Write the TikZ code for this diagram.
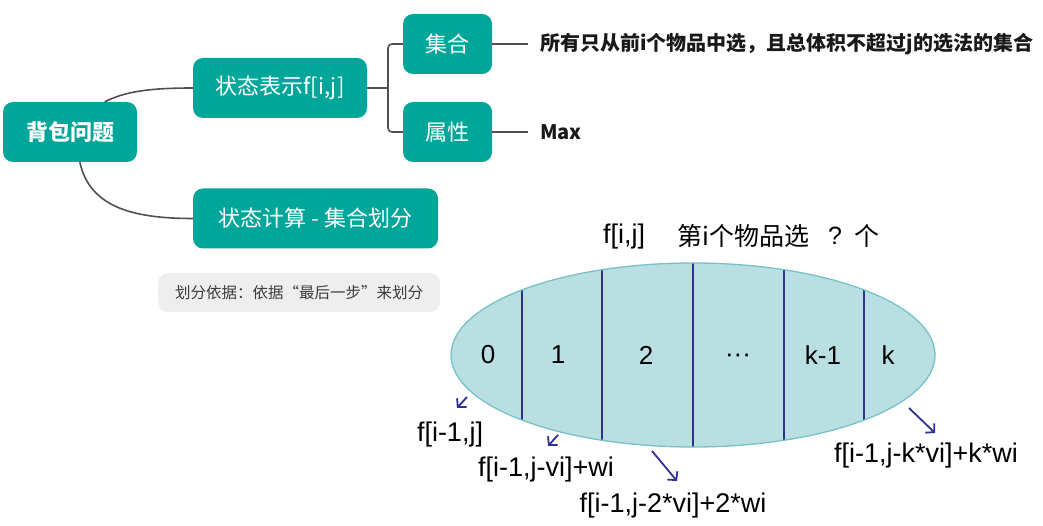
\documentclass[tikz,border=0pt]{standalone}
\usepackage{fontspec}
\setmainfont{Liberation Sans}
\newfontfamily\cjk{Noto Sans CJK SC}
\usetikzlibrary{shapes.geometric,arrows.meta,calc}

\definecolor{teal0}{RGB}{0,166,153}
\definecolor{linkgray}{RGB}{80,80,80}
\definecolor{ellfill}{RGB}{185,223,227}
\definecolor{ellborder}{RGB}{120,193,198}
\definecolor{divblue}{RGB}{46,49,146}
\definecolor{notegray}{RGB}{238,238,238}
\definecolor{notetext}{RGB}{60,60,60}
\definecolor{textdark}{RGB}{25,25,25}

\begin{document}
\begin{tikzpicture}[x=1pt,y=-1pt,
  mind/.style={fill=teal0, rounded corners=10pt, text=white,
    font=\cjk\fontsize{22}{26}\selectfont, minimum height=60pt, inner sep=0pt},
  link/.style={draw=linkgray, line width=1.6pt},
  desc/.style={anchor=west, inner xsep=12pt, inner ysep=0pt, text=textdark,
    font=\cjk\bfseries\fontsize{20}{24}\selectfont},
  cell/.style={font=\fontsize{26}{30}\selectfont, text=black},
  term/.style={font=\fontsize{27}{31}\selectfont, text=black, inner sep=0pt},
  ask/.style={font=\cjk\fontsize{25}{29}\selectfont, text=black, inner sep=0pt},
  pointer/.style={draw=divblue, line width=1.8pt,
    -{Straight Barb[length=6pt,width=13pt,line width=1.8pt]}},
]
\useasboundingbox (0,0) rectangle (1043,526);

% ---- mind map ----
\node[mind, minimum width=134pt, font=\cjk\bfseries\fontsize{22}{26}\selectfont]
  (root) at (70,132) {背包问题};
\node[mind, minimum width=174pt] (rep)  at (280,88)    {状态表示f[i,j]};
\node[mind, minimum width=89pt]  (set)  at (447.5,44)  {集合};
\node[mind, minimum width=89pt]  (attr) at (447.5,132) {属性};
\node[mind, minimum width=245pt] (calc) at (315.5,218.5) {状态计算 - 集合划分};

\draw[link] (root.41) .. controls +(20,-10) and +(-45,0) .. (rep.west);
\draw[link] (root.-72) .. controls +(10,45) and +(-60,0) .. (calc.west);

\coordinate (fork) at (388,88);
\draw[link] (rep.east) -- (fork);
\draw[link, rounded corners=4pt] (set.west) -| (fork) |- (attr.west);

\node[desc] (setdesc) at (528,44) {所有只从前i个物品中选，且总体积不超过j的选法的集合};
\node[desc] (attrdesc) at (528,132) {Max};
\draw[link] (set.east) -- (setdesc.west);
\draw[link] (attr.east) -- (attrdesc.west);

% ---- note ----
\node[fill=notegray, rounded corners=10pt, minimum width=282pt, minimum height=39pt,
  inner sep=0pt, text=notetext, font=\cjk\fontsize{15.5}{18}\selectfont]
  (note) at (299,292.5) {划分依据：依据“最后一步”来划分};

% ---- partition of the set f[i,j] ----
\node[ellipse, fill=ellfill, minimum width=484pt, minimum height=184pt, inner sep=0pt]
  (bag) at (693,355) {};
\begin{scope}
  \clip (693,355) ellipse [x radius=242, y radius=92];
  \foreach \x in {522,602,693,784,864}
    \draw[divblue, line width=1.8pt] (\x,250) -- (\x,460);
\end{scope}
\draw[ellborder, line width=1.3pt] (693,355) ellipse [x radius=242, y radius=92];

\node[cell] (c0) at (488,355) {0};
\node[cell] (c1) at (558,355) {1};
\node[cell] (c2) at (646,355) {2};
\node[cell] (cd) at (738,358) {···};
\node[cell] (ck1) at (823,355) {k-1};
\node[cell] (ck) at (888,355) {k};

\node[term] (fij) at (624,237) {f[i,j]};
\node[ask, anchor=west] (howmany) at (677,236) {第i个物品选};
\node[ask, font=\fontsize{25}{29}\selectfont] (qmark) at (835,236) {?};
\node[ask] (ge) at (867,236) {个};

\node[term] (t0) at (450,435) {f[i-1,j]};
\node[term] (t1) at (546,470) {f[i-1,j-vi]+wi};
\node[term] (t2) at (673,506) {f[i-1,j-2*vi]+2*wi};
\node[term] (tk) at (926,456) {f[i-1,j-k*vi]+k*wi};

\coordinate (p0s) at (467,397); \coordinate (p0e) at (457,408);
\coordinate (p1s) at (558,435); \coordinate (p1e) at (548,446);
\coordinate (p2s) at (652,451); \coordinate (p2e) at (677,481);
\coordinate (pks) at (909,408); \coordinate (pke) at (935,433);
\draw[pointer] (p0s) -- (p0e);
\draw[pointer] (p1s) -- (p1e);
\draw[pointer] (p2s) -- (p2e);
\draw[pointer] (pks) -- (pke);
\end{tikzpicture}
\end{document}
